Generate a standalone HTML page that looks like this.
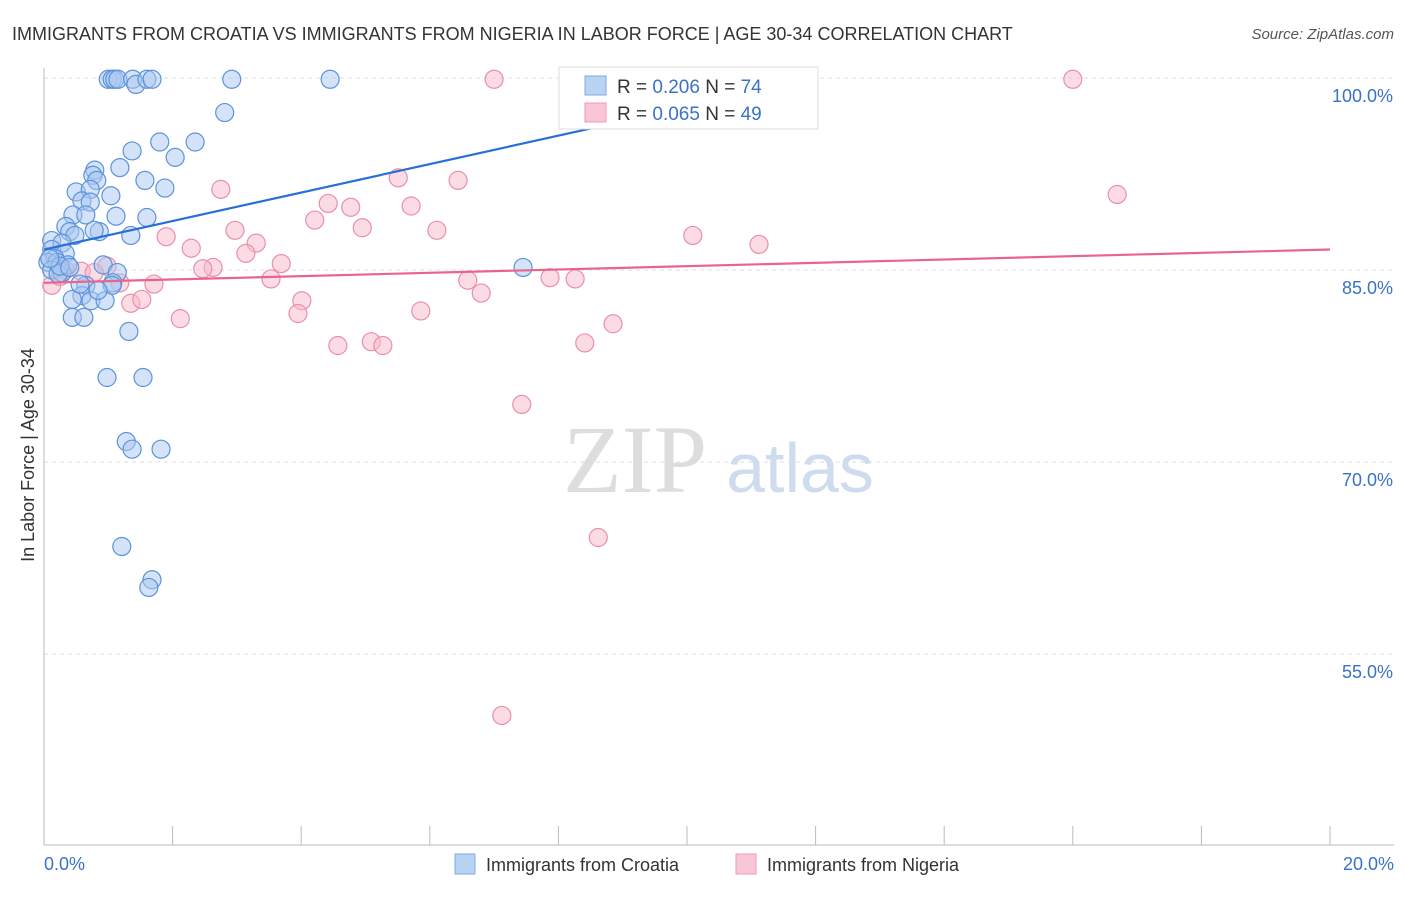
<!DOCTYPE html>
<html><head><meta charset="utf-8"><style>
body{margin:0;background:#fff;font-family:"Liberation Sans",sans-serif}
</style></head><body>
<svg width="1406" height="892" xmlns="http://www.w3.org/2000/svg" font-family="Liberation Sans, sans-serif">
<text x="12" y="40" font-size="18" fill="#333">IMMIGRANTS FROM CROATIA VS IMMIGRANTS FROM NIGERIA IN LABOR FORCE | AGE 30-34 CORRELATION CHART</text>
<text x="1394" y="39" font-size="15" fill="#555" font-style="italic" text-anchor="end">Source: ZipAtlas.com</text>
<text x="635" y="492" font-size="96" fill="#ddd" font-family="Liberation Serif, serif" text-anchor="middle">ZIP</text>
<text x="800" y="492" font-size="70" fill="#cfdcf0" text-anchor="middle">atlas</text>
<g id="grid"></g><g id="axes"></g><g id="pts"></g><g id="lines"></g>
<text x="34" y="455" font-size="18" fill="#333" text-anchor="middle" transform="rotate(-90 34 455)">In Labor Force | Age 30-34</text>
<text x="44" y="870" font-size="18" fill="#3a72c8">0.0%</text>
<text x="1394" y="870" font-size="18" fill="#3a72c8" text-anchor="end">20.0%</text>
<g>
<rect x="559" y="67" width="259" height="62" fill="#fff" stroke="#ddd"/>
<rect x="585" y="76" width="21" height="19" fill="#b9d3f5" stroke="#7fa9e2"/>
<rect x="585" y="103" width="21" height="19" fill="#f9c6d5" stroke="#ee9ab3"/>
<text x="617" y="93" font-size="19" fill="#333">R = <tspan fill="#3a72c8">0.206</tspan>   N = <tspan fill="#3a72c8">74</tspan></text>
<text x="617" y="120" font-size="19" fill="#333">R = <tspan fill="#3a72c8">0.065</tspan>   N = <tspan fill="#3a72c8">49</tspan></text>
</g>
<g>
<rect x="455" y="854" width="20" height="20" fill="#b9d3f5" stroke="#7fa9e2"/>
<text x="486" y="871" font-size="18" fill="#333">Immigrants from Croatia</text>
<rect x="736" y="854" width="20" height="20" fill="#f9c6d5" stroke="#ee9ab3"/>
<text x="767" y="871" font-size="18" fill="#333">Immigrants from Nigeria</text>
</g>
</svg>
<script>
const blueX=[1.00,1.06,1.10,1.15,1.38,1.43,1.60,1.68,2.92,4.45,2.81,1.80,2.35,1.37,2.04,0.79,0.76,0.82,1.18,1.57,0.50,0.72,1.88,1.04,0.59,0.72,0.45,0.65,1.12,1.60,0.34,0.40,0.86,0.48,1.35,0.12,0.28,0.12,0.33,0.17,0.06,0.20,0.37,0.92,0.12,0.28,1.14,0.22,0.65,1.07,1.06,0.59,0.44,0.73,0.95,0.44,0.62,1.32,7.45,0.98,1.54,1.28,1.37,1.82,1.21,1.68,1.63,10.31,0.56,0.25,0.09,0.40,0.78,0.84];
const blueY=[99.9,99.9,99.9,99.9,99.9,99.5,99.9,99.9,99.9,99.9,97.3,95.0,95.0,94.3,93.8,92.8,92.4,92.0,93.0,92.0,91.1,91.3,91.4,90.8,90.4,90.3,89.3,89.3,89.2,89.1,88.4,88.0,88.0,87.7,87.7,87.3,87.1,86.6,86.3,85.9,85.6,85.6,85.4,85.4,85.0,84.8,84.8,84.7,83.8,84.0,83.8,83.0,82.7,82.6,82.6,81.3,81.3,80.2,85.2,76.6,76.6,71.6,71.0,71.0,63.4,60.8,60.2,99.9,83.9,85.3,85.9,85.2,88.1,83.4];
const pinkX=[7.00,16.00,2.75,6.44,5.51,16.69,4.42,4.77,5.71,4.21,4.95,6.11,2.97,1.90,10.09,11.12,3.30,2.29,3.14,3.69,2.63,2.47,0.58,0.98,0.33,1.18,1.71,3.53,6.59,7.87,8.26,6.80,4.01,1.35,1.52,3.95,5.86,2.12,8.85,4.57,5.09,5.27,8.41,7.43,8.62,7.12,0.12,0.78,0.25];
const pinkY=[99.9,99.9,91.3,92.0,92.2,90.9,90.2,89.9,90.0,88.9,88.3,88.1,88.1,87.6,87.7,87.0,87.1,86.7,86.3,85.5,85.2,85.1,84.9,85.3,85.0,84.0,83.9,84.3,84.2,84.4,84.3,83.2,82.6,82.4,82.7,81.6,81.8,81.2,80.8,79.1,79.4,79.1,79.3,74.5,64.1,50.2,83.8,84.8,84.5];
const blueLine=[[0,86.6],[11.6,99.5]];
const pinkLine=[[0,84.0],[20,86.6]];
const yTicks=[100,85,70,55];
const NS='http://www.w3.org/2000/svg';
const xs=v=>44+v*64.3, ys=v=>78+(100-v)*12.8;
function mk(p,t,a){const e=document.createElementNS(NS,t);for(const k in a)e.setAttribute(k,a[k]);document.getElementById(p).appendChild(e);return e;}
yTicks.forEach(t=>{
 const l=mk('grid','line',{x1:44,x2:1394,y1:ys(t),y2:ys(t),stroke:'#ddd','stroke-dasharray':'4,4'});
 
 
 const tx=mk('grid','text',{x:1393,y:ys(t)+24,'font-size':18,fill:'#3a72c8','text-anchor':'end'});
 tx.textContent=t.toFixed(1)+'%';
 
 
});
const ax=mk('axes','line',{x1:44,x2:44,y1:68,y2:845,stroke:'#bbb'});


const bx=mk('axes','line',{x1:44,x2:1394,y1:845,y2:845,stroke:'#bbb'});


for(let i=0;i<=10;i++){const t=mk('axes','line',{x1:xs(i*2),x2:xs(i*2),y1:826,y2:845,stroke:'#bbb'});
 
 }
function pts(X,Y,f,s,n){X.forEach((x,i)=>{const c=mk('pts','circle',{cx:xs(x),cy:ys(Y[i]),r:9,fill:f,'fill-opacity':0.5,stroke:s,'stroke-width':1.2});
 
 });}
pts(pinkX,pinkY,'#f7b9cc','#ea8fab','nigeria-point');
pts(blueX,blueY,'#a9c8f0','#5b93dc','croatia-point');
function ln(L,c,n){const l=mk('lines','line',{x1:xs(L[0][0]),y1:ys(L[0][1]),x2:xs(L[1][0]),y2:ys(L[1][1]),stroke:c,'stroke-width':2.2});
 
 }
ln(blueLine,'#2a6fd4','croatia-trendline');
ln(pinkLine,'#e8648f','nigeria-trendline');
</script>
</body></html>
